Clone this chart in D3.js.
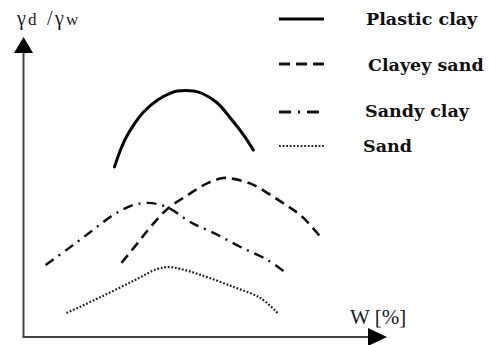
<!DOCTYPE html>
<html>
<head>
<meta charset="utf-8">
<script src="https://cdn.jsdelivr.net/npm/d3@7"></script>
<style>
  html, body { margin: 0; padding: 0; background: #fff; }
  svg { display: block; }
</style>
</head>
<body>
<svg id="chart" width="498" height="345"></svg>
<script>
// Compaction curves: dry unit weight ratio against water content W [%]
const seriesNames = ["Plastic clay", "Clayey sand", "Sandy clay", "Sand"];

const plasticClayW = [26.0, 27.6, 29.3, 31.6, 34.3, 38.3, 42.0, 44.0, 48.6, 51.4, 55.4, 59.1, 62.9, 65.7];
const plasticClayG = [56.7, 62.0, 66.5, 70.9, 75.0, 79.0, 81.3, 82.0, 82.0, 81.0, 78.0, 73.0, 67.3, 62.3];

const clayeySandW = [28.0, 32.6, 36.3, 41.1, 46.9, 52.6, 57.1, 60.0, 65.7, 71.4, 76.3, 80.0, 84.9];
const clayeySandG = [24.7, 31.3, 36.7, 42.7, 47.3, 51.3, 53.0, 52.7, 50.7, 46.7, 43.0, 39.7, 33.3];

const sandyClayW = [6.3, 12.6, 19.1, 25.7, 31.4, 35.4, 38.3, 42.0, 47.7, 54.3, 62.0, 69.7, 75.4];
const sandyClayG = [24.0, 29.3, 35.0, 40.7, 44.0, 44.7, 44.3, 42.7, 38.3, 34.7, 30.0, 25.7, 21.0];

const sandW = [12.3, 22.0, 31.4, 38.3, 41.4, 44.9, 50.6, 60.0, 67.7, 72.6];
const sandG = [8.0, 13.3, 18.7, 22.7, 23.3, 22.7, 20.7, 16.7, 13.0, 8.0];

const xAxisLabel = "W [%]";

const svg = d3.select("#chart");

// Axis frame: origin at lower left, arrows on the open ends
const x = d3.scaleLinear().domain([0, 100]).range([23.5, 373.5]);
const y = d3.scaleLinear().domain([0, 100]).range([337, 37]);

const frame = svg.append("g");
frame.append("line")
  .attr("x1", x(0)).attr("y1", y(0))
  .attr("x2", x(0)).attr("y2", 50)
  .attr("stroke", "#444").attr("stroke-width", 2);
frame.append("line")
  .attr("x1", x(0) - 1).attr("y1", y(0))
  .attr("x2", 370).attr("y2", y(0))
  .attr("stroke", "#444").attr("stroke-width", 2);
// up arrow head
frame.append("path")
  .attr("d", `M${x(0)},37 L${x(0) - 9.5},53 L${x(0) + 9.5},53 Z`)
  .attr("fill", "#000");
// right arrow head
frame.append("path")
  .attr("d", `M387,${y(0)} L368,${y(0) - 9} L368,${y(0) + 9} Z`)
  .attr("fill", "#000");

// Axis labels: γd / γw
const yLab = svg.append("text")
  .attr("y", 25)
  .attr("font-family", "Liberation Serif, serif")
  .attr("font-size", 20)
  .attr("fill", "#1a1a2a");
yLab.append("tspan").attr("x", 17).text("γ");
yLab.append("tspan").attr("x", 28).attr("font-size", 17).text("d");
yLab.append("tspan").attr("x", 47).text("/");
yLab.append("tspan").attr("x", 55).text("γ");
yLab.append("tspan").attr("x", 66).attr("font-size", 17).text("w");

svg.append("text")
  .attr("x", 350).attr("y", 324)
  .attr("font-family", "Liberation Serif, serif")
  .attr("font-size", 21)
  .attr("fill", "#1a1a2a")
  .text(xAxisLabel);

// Line styles per soil type
const styles = [
  { width: 3,   dash: null,        cap: "round", color: "#000" },
  { width: 2.6, dash: "10,6",      cap: "butt",  color: "#111" },
  { width: 2.4, dash: "10,6,2,6",  cap: "butt",  color: "#111" },
  { width: 2.2, dash: "1.8,1.8",   cap: "butt",  color: "#222" }
];

const series = [
  { name: seriesNames[0], w: plasticClayW, g: plasticClayG },
  { name: seriesNames[1], w: clayeySandW, g: clayeySandG },
  { name: seriesNames[2], w: sandyClayW, g: sandyClayG },
  { name: seriesNames[3], w: sandW, g: sandG }
];

const line = d3.line()
  .x(d => x(d[0]))
  .y(d => y(d[1]))
  .curve(d3.curveCatmullRom.alpha(0.5));

series.forEach((s, i) => {
  const pts = s.w.map((w, k) => [w, s.g[k]]);
  const st = styles[i];
  svg.append("path")
    .datum(pts)
    .attr("d", line)
    .attr("fill", "none")
    .attr("stroke", st.color)
    .attr("stroke-width", st.width)
    .attr("stroke-linecap", st.cap)
    .attr("stroke-linejoin", "round")
    .attr("stroke-dasharray", st.dash);
});

// Legend
const legendRows = [
  { lineY: 19,  textX: 366, textY: 25 },
  { lineY: 64,  textX: 368, textY: 71 },
  { lineY: 112, textX: 365, textY: 117 },
  { lineY: 146, textX: 363, textY: 152 }
];

const legend = svg.append("g");
seriesNames.forEach((name, i) => {
  const st = styles[i];
  const row = legendRows[i];
  legend.append("line")
    .attr("x1", 279).attr("x2", 324)
    .attr("y1", row.lineY).attr("y2", row.lineY)
    .attr("stroke", st.color)
    .attr("stroke-width", i === 3 ? 2 : 3)
    .attr("stroke-dasharray", i === 1 ? "11,6" : i === 2 ? "12,7,2,7" : st.dash);
  legend.append("text")
    .attr("x", row.textX).attr("y", row.textY)
    .attr("font-family", "DejaVu Serif, serif")
    .attr("font-weight", "bold")
    .attr("font-size", 17.5)
    .attr("fill", "#111")
    .text(name);
});
</script>
</body>
</html>
